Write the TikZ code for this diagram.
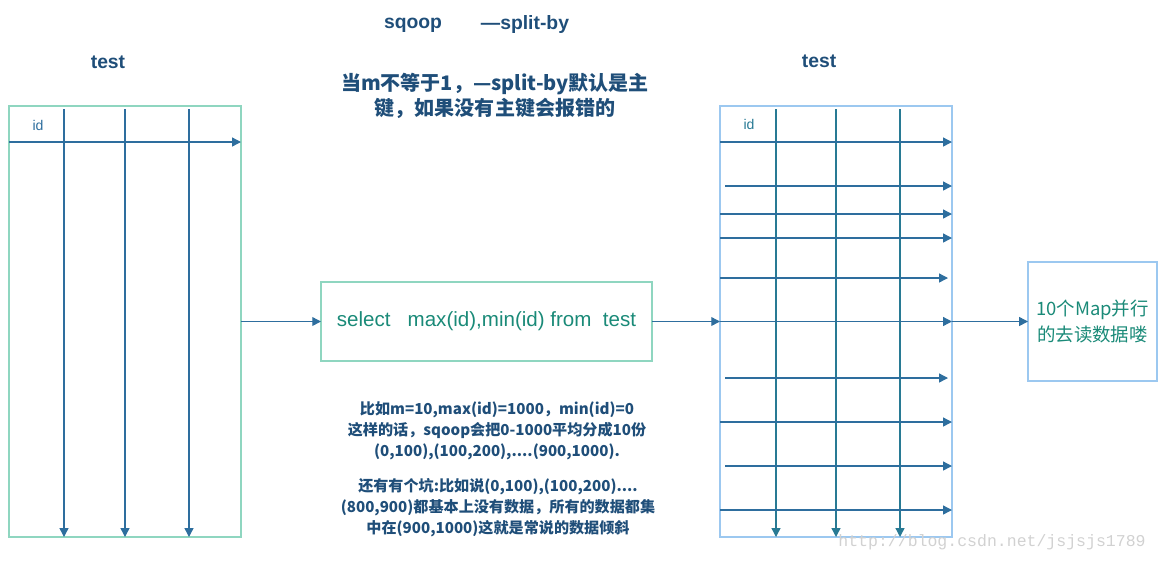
\documentclass[tikz,border=0pt]{standalone}
\usepackage{fontspec}
\setmainfont{Liberation Sans}
\newfontfamily\cjk{Noto Sans CJK SC}
\newfontfamily\wmfont{Liberation Mono}
\usetikzlibrary{arrows.meta}

\definecolor{linec}{HTML}{2E6E9E}
\definecolor{linecr}{HTML}{287A94}
\definecolor{tealbd}{HTML}{8FD6C0}
\definecolor{bluebd}{HTML}{9CC8F0}
\definecolor{titlec}{HTML}{1F4E79}
\definecolor{selc}{HTML}{1A8A78}

\tikzset{
  tabbox/.style={draw, line width=0.8pt, inner sep=0pt, outer sep=0pt,
    minimum width=4.64cm, minimum height=8.62cm},
  arr/.style={-{Triangle[length=5pt,width=5pt]}, line width=0.75pt},
  hd/.style={font=\fontsize{11}{13}\selectfont\bfseries, text=titlec},
}

\begin{document}
\begin{tikzpicture}[x=0.02cm,y=-0.02cm]
\useasboundingbox (0,0) rectangle (1158,562);

% the two tables
\node[tabbox, draw=tealbd] (lefttab) at (125,321.5) {};
\node[tabbox, draw=bluebd] (righttab) at (836,321.5) {};

\node[hd] (ltest) at (108,62) {test};
\node[hd] (rtest) at (819,61) {test};
\node[font=\fontsize{8}{10}\selectfont, text=linec] (lid) at (38,125) {id};
\node[font=\fontsize{8}{10}\selectfont, text=linecr] (rid) at (749,124) {id};

% left table columns and row
\foreach \x in {64,125,189}
  \draw[arr, linec] (\x,109) -- (\x,537);
\draw[arr, linec] (9,142) -- (241,142);

% right table columns and rows
\foreach \x in {776,836,900}
  \draw[arr, linecr] (\x,109) -- (\x,537);
\foreach \y/\a/\b in {142/720/952, 186/725/952, 214/720/952, 238/720/952,
    278/720/948, 378/725/948, 422/720/952, 466/725/952, 510/720/952}
  \draw[arr, linec] (\a,\y) -- (\b,\y);

% query and map boxes
\node[draw=tealbd, line width=0.8pt, minimum width=6.62cm, minimum height=1.58cm,
  inner sep=0pt, outer sep=0pt, text=selc, font=\fontsize{11.7}{14}\selectfont]
  (sel) at (486.5,321.5) {select\ \ \ max(id),min(id) from\ \ test};
\node[draw=bluebd, line width=0.8pt, minimum width=2.58cm, minimum height=2.38cm,
  inner sep=0pt, outer sep=0pt, text=selc, align=center,
  font=\cjk\fontsize{10.5}{14.8}\selectfont]
  (map) at (1092.5,321.5) {10个Map并行\\的去读数据喽};

\draw[arr, linec] (lefttab.east) -- (sel.west);
\draw[arr, linec] (sel.east) -- (righttab.west);
\draw[arr, linec] (righttab.west) -- (righttab.east);
\draw[arr, linec] (righttab.east) -- (map.west);

% notes
\node[hd] (sq) at (413,25) {sqoop};
\node[hd] (sb) at (525,24) {—split-by};
\node[align=center, text=titlec, font=\cjk\bfseries\fontsize{11.4}{14.2}\selectfont]
  (note) at (495,96) {当m不等于1，—split-by默认是主\\键，如果没有主键会报错的};
\node[align=center, text=titlec, font=\cjk\bfseries\fontsize{8.6}{12}\selectfont]
  (ex1) at (497,431) {比如m=10,max(id)=1000，min(id)=0\\这样的话，sqoop会把0-1000平均分成10份\\(0,100),(100,200),....(900,1000).};
\node[align=center, text=titlec, font=\cjk\bfseries\fontsize{8.6}{12}\selectfont]
  (ex2) at (498,508) {还有有个坑:比如说(0,100),(100,200)....\\(800,900)都基本上没有数据，所有的数据都集\\中在(900,1000)这就是常说的数据倾斜};

\node[text=black!18, font=\wmfont\fontsize{9.4}{11}\selectfont] (wm) at (992,542)
  {http://blog.csdn.net/jsjsjs1789};
\end{tikzpicture}
\end{document}
